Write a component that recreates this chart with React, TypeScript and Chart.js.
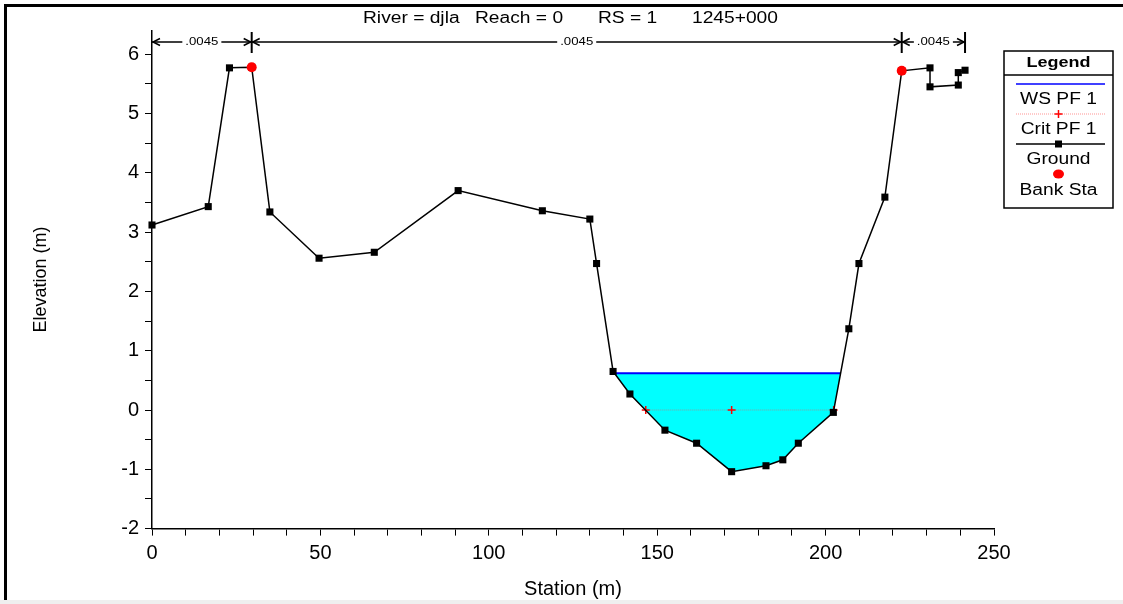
import React, { useEffect, useRef } from "react";
import { Chart, registerables } from "chart.js";

Chart.register(...registerables);

// Cross-section geometry: station (m) and ground elevation (m)
const groundStation = [
  0, 16.7, 23.0, 29.6, 35.0, 49.6, 66.0, 90.9, 115.9, 130.0, 132.0, 136.9,
  141.9, 152.3, 161.7, 172.1, 182.3, 187.3, 191.9, 202.3, 206.9, 209.9,
  217.6, 222.6, 231.0, 231.0, 239.4, 239.4, 241.4,
];
const groundElevation = [
  3.12, 3.43, 5.77, 5.78, 3.34, 2.56, 2.66, 3.7, 3.36, 3.22, 2.47, 0.65,
  0.27, -0.34, -0.56, -1.04, -0.94, -0.84, -0.56, -0.04, 1.37, 2.47, 3.59,
  5.72, 5.77, 5.45, 5.48, 5.69, 5.73,
];

// Bank stations
const bankStation = [29.6, 222.6];
const bankElevation = [5.78, 5.72];

// Profile results
const wsElevation = 0.62;
const critStation = [146.6, 172.1, 202.4];
const critElevation = [0.0, 0.0, 0.0];

// Manning's n for left overbank, channel, right overbank
const manningN = [".0045", ".0045", ".0045"];

const titleParts = ["River = djla", "Reach = 0", "RS = 1", "1245+000"];
const legendLabels = ["WS PF 1", "Crit PF 1", "Ground", "Bank Sta"];

const FONT = "'Liberation Sans', Arial, sans-serif";
const STRETCH = 1.2;

type Pt = { x: number; y: number };

// Wetted area below the water surface, bounded by the ground line
function waterPolygon(xs: number[], ys: number[], ws: number): Pt[] {
  let low = 0;
  for (let i = 1; i < ys.length; i++) if (ys[i] < ys[low]) low = i;
  let l = low;
  while (l > 0 && ys[l] < ws) l--;
  let r = low;
  while (r < ys.length - 1 && ys[r] < ws) r++;
  const cross = (i: number, j: number) =>
    xs[i] + ((ws - ys[i]) / (ys[j] - ys[i])) * (xs[j] - xs[i]);
  const pts: Pt[] = [{ x: cross(l, l + 1), y: ws }];
  for (let i = l + 1; i < r; i++) pts.push({ x: xs[i], y: ys[i] });
  pts.push({ x: cross(r - 1, r), y: ws });
  return pts;
}

function wideText(
  ctx: CanvasRenderingContext2D,
  text: string,
  x: number,
  y: number,
  font: string,
  align: CanvasTextAlign = "center"
) {
  ctx.save();
  ctx.translate(x, y);
  ctx.scale(STRETCH, 1);
  ctx.font = font;
  ctx.textAlign = align;
  ctx.textBaseline = "middle";
  ctx.fillStyle = "#000";
  ctx.fillText(text, 0, 0);
  ctx.restore();
}

function chevron(ctx: CanvasRenderingContext2D, tipX: number, y: number, dir: number) {
  ctx.beginPath();
  ctx.moveTo(tipX - dir * 7, y - 3.5);
  ctx.lineTo(tipX, y);
  ctx.lineTo(tipX - dir * 7, y + 3.5);
  ctx.stroke();
}

const decorations = {
  id: "decorations",
  afterDraw(chart: any) {
    const ctx: CanvasRenderingContext2D = chart.ctx;
    const xs = chart.scales.x;
    ctx.save();

    // window frame
    ctx.fillStyle = "#000";
    ctx.fillRect(4, 4, 3, 600);
    ctx.fillRect(4, 4, 1119, 3);
    ctx.fillStyle = "#efefef";
    ctx.fillRect(0, 600, 1123, 4);

    // title
    const titleX = [363, 475, 598, 692];
    titleParts.forEach((t, i) =>
      wideText(ctx, t, titleX[i], 19, `16px ${FONT}`, "left")
    );

    // Manning's n regions
    const bounds = [
      groundStation[0],
      bankStation[0],
      bankStation[1],
      groundStation[groundStation.length - 1],
    ].map((v) => xs.getPixelForValue(v));
    const ny = 42;
    ctx.strokeStyle = "#000";
    ctx.lineWidth = 1.5;
    for (let i = 1; i < bounds.length; i++) {
      ctx.beginPath();
      ctx.moveTo(bounds[i], 32);
      ctx.lineTo(bounds[i], 53);
      ctx.lineWidth = 2;
      ctx.stroke();
    }
    ctx.lineWidth = 1.5;
    manningN.forEach((label, i) => {
      const a = bounds[i];
      const b = bounds[i + 1];
      const mid = (a + b) / 2;
      ctx.font = `11px ${FONT}`;
      const half = (ctx.measureText(label).width * STRETCH) / 2 + 3;
      ctx.beginPath();
      ctx.moveTo(a, ny);
      ctx.lineTo(mid - half, ny);
      ctx.moveTo(mid + half, ny);
      ctx.lineTo(b, ny);
      ctx.stroke();
      chevron(ctx, a + 1, ny, -1);
      chevron(ctx, b - 1, ny, 1);
      wideText(ctx, label, mid, ny, `11px ${FONT}`);
    });

    // legend
    const L = 1004, T = 51, R = 1113, B = 208;
    const cx = (L + R) / 2;
    ctx.fillStyle = "#fff";
    ctx.fillRect(L, T, R - L, B - T);
    ctx.strokeStyle = "#000";
    ctx.lineWidth = 1.5;
    ctx.strokeRect(L, T, R - L, B - T);
    ctx.beginPath();
    ctx.moveTo(L, 75);
    ctx.lineTo(R, 75);
    ctx.stroke();
    wideText(ctx, "Legend", cx, 63, `bold 15px ${FONT}`);

    const x0 = 1016, x1 = 1105;
    // WS
    ctx.strokeStyle = "#0000ff";
    ctx.lineWidth = 1.5;
    ctx.beginPath();
    ctx.moveTo(x0, 84);
    ctx.lineTo(x1, 84);
    ctx.stroke();
    wideText(ctx, legendLabels[0], cx, 100, `16px ${FONT}`);
    // Crit
    ctx.strokeStyle = "rgba(255,120,120,0.8)";
    ctx.lineWidth = 1;
    ctx.setLineDash([1, 1]);
    ctx.beginPath();
    ctx.moveTo(x0, 114);
    ctx.lineTo(x1, 114);
    ctx.stroke();
    ctx.setLineDash([]);
    ctx.strokeStyle = "#ff0000";
    ctx.lineWidth = 1.5;
    ctx.beginPath();
    ctx.moveTo(cx - 4, 114);
    ctx.lineTo(cx + 4, 114);
    ctx.moveTo(cx, 110);
    ctx.lineTo(cx, 118);
    ctx.stroke();
    wideText(ctx, legendLabels[1], cx, 130, `16px ${FONT}`);
    // Ground
    ctx.strokeStyle = "#000";
    ctx.lineWidth = 1.5;
    ctx.beginPath();
    ctx.moveTo(x0, 144);
    ctx.lineTo(x1, 144);
    ctx.stroke();
    ctx.fillStyle = "#000";
    ctx.fillRect(cx - 3.5, 140.5, 7, 7);
    wideText(ctx, legendLabels[2], cx, 160, `16px ${FONT}`);
    // Bank Sta
    ctx.fillStyle = "#ff0000";
    ctx.beginPath();
    ctx.ellipse(cx, 174, 5.5, 4.5, 0, 0, Math.PI * 2);
    ctx.fill();
    wideText(ctx, legendLabels[3], cx, 191, `16px ${FONT}`);

    ctx.restore();
  },
};

export default function App() {
  const canvasRef = useRef<HTMLCanvasElement | null>(null);

  useEffect(() => {
    const canvas = canvasRef.current;
    if (!canvas) return;

    const ground = groundStation.map((x, i) => ({ x, y: groundElevation[i] }));
    const banks = bankStation.map((x, i) => ({ x, y: bankElevation[i] }));
    const water = waterPolygon(groundStation, groundElevation, wsElevation);
    const wsLine = [water[0], water[water.length - 1]];
    const crit = critStation.map((x, i) => ({ x, y: critElevation[i] }));

    const chart = new Chart(canvas, {
      type: "line",
      data: {
        datasets: [
          {
            label: "Bank Sta",
            data: banks,
            showLine: false,
            pointStyle: "circle",
            pointRadius: 5,
            pointBackgroundColor: "#ff0000",
            pointBorderColor: "#ff0000",
            pointBorderWidth: 0,
            order: 0,
            clip: false,
          } as any,
          {
            label: "Ground",
            data: ground,
            borderColor: "#000",
            borderWidth: 1.5,
            pointStyle: "rect",
            pointRadius: 5,
            pointBackgroundColor: "#000",
            pointBorderColor: "#000",
            pointBorderWidth: 0,
            tension: 0,
            order: 1,
            clip: false,
          },
          {
            label: "Crit PF 1",
            data: crit,
            borderColor: "rgba(190,120,120,0.7)",
            borderWidth: 1,
            borderDash: [1, 1],
            pointStyle: "cross",
            pointRadius: 4,
            pointBorderColor: "#ff0000",
            pointBorderWidth: 1.5,
            order: 2,
          },
          {
            label: "WS PF 1",
            data: wsLine,
            borderColor: "#0000ff",
            borderWidth: 2,
            pointRadius: 0,
            order: 3,
          },
          {
            label: "water",
            data: water,
            borderColor: "transparent",
            borderWidth: 0,
            pointRadius: 0,
            backgroundColor: "#00ffff",
            fill: { value: wsElevation },
            order: 4,
          },
        ],
      },
      options: {
        responsive: false,
        animation: false,
        events: [],
        layout: { padding: { left: 0, right: 129, top: 30.5, bottom: 0 } },
        plugins: {
          legend: { display: false },
          tooltip: { enabled: false },
        },
        scales: {
          x: {
            type: "linear",
            min: 0,
            max: 250,
            afterFit: (s: any) => {
              s.height = 75.4;
            },
            grid: {
              drawOnChartArea: false,
              drawTicks: true,
              tickLength: 7,
              color: "#000",
              lineWidth: 1,
            },
            border: { display: true, color: "#000", width: 1.5 },
            ticks: {
              stepSize: 10,
              autoSkip: false,
              maxRotation: 0,
              padding: 6,
              color: "#000",
              font: { family: FONT, size: 20 },
              includeBounds: false,
              callback: (v: any) => (Number(v) % 50 === 0 ? String(v) : ""),
            },
            title: {
              display: true,
              text: "Station (m)",
              color: "#000",
              font: { family: FONT, size: 20 },
              padding: { top: 0, bottom: 3 },
            },
          },
          y: {
            type: "linear",
            min: -2,
            max: 6.4,
            afterFit: (s: any) => {
              s.width = 152;
            },
            grid: {
              drawOnChartArea: false,
              drawTicks: true,
              tickLength: 7,
              color: "#000",
              lineWidth: 1,
            },
            border: { display: true, color: "#000", width: 1.5 },
            ticks: {
              stepSize: 0.5,
              autoSkip: false,
              padding: 6,
              color: "#000",
              font: { family: FONT, size: 20 },
              includeBounds: false,
              callback: (v: any) => {
                const n = Number(v);
                return Math.abs(n - Math.round(n)) < 1e-6 ? String(Math.round(n)) : "";
              },
            },
            title: {
              display: true,
              text: "Elevation (m)",
              color: "#000",
              font: { family: FONT, size: 18 },
              padding: { top: 30, bottom: 0 },
            },
          },
        },
      },
      plugins: [decorations],
    });

    return () => chart.destroy();
  }, []);

  return (
    <div
      style={{
        position: "fixed",
        left: 0,
        top: 0,
        width: 1123,
        height: 604,
        background: "#fff",
      }}
    >
      <canvas ref={canvasRef} width={1123} height={604} />
    </div>
  );
}
